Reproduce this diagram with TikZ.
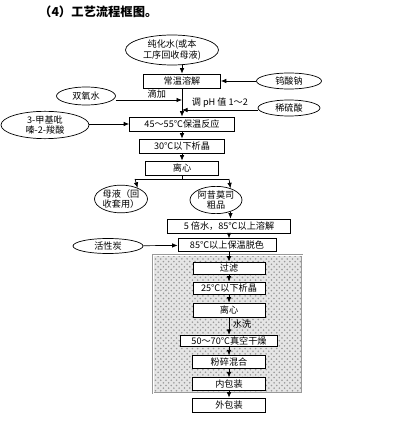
\documentclass[tikz,border=0pt]{standalone}
\usepackage{fontspec}
\usetikzlibrary{shapes.geometric,arrows.meta,patterns}
\newfontfamily\cjk{Noto Sans CJK SC}

\tikzset{
  every node/.style={font=\cjk\fontsize{5.2}{6.2}\selectfont},
  box/.style={draw,fill=white,line width=0.4pt,inner sep=0pt,minimum height=0.28cm,minimum width=#1},
  oval/.style={draw,ellipse,line width=0.4pt,inner sep=0pt,align=center,minimum width=#1},
  arr/.style={-{Latex[length=1.1mm,width=0.9mm]},line width=0.4pt},
  lbl/.style={inner sep=1pt}
}

\begin{document}
\begin{tikzpicture}[x=0.02cm,y=-0.02cm]
\useasboundingbox (0,0) rectangle (401,425);
\node[anchor=west,font=\cjk\bfseries\fontsize{7}{8}\selectfont] (title) at (33,12) {（4）工艺流程框图。};

% shaded part
\draw[draw=gray!80,double=white,double distance=0.5pt,preaction={fill=gray!20},pattern=crosshatch dots,pattern color=gray!80] (153,255) rectangle (302,393);

% feed and first steps
\node[oval=1.86cm,minimum height=0.6cm] (chunshui) at (172,50) {纯化水(或本\\工序回收母液)};
\node[box=1.54cm] (rongjie) at (182,81) {常温溶解};
\node[oval=1.3cm,minimum height=0.32cm] (wusuan) at (289,81) {钨酸钠};
\node[oval=1.18cm,minimum height=0.36cm] (shuangyang) at (86,96) {双氧水};
\node[oval=1.24cm,minimum height=0.32cm] (liusuan) at (289,108) {稀硫酸};
\node[oval=1.76cm,minimum height=0.52cm] (jiaji) at (45,125) {3-甲基吡\\嗪-2-羧酸};
\node[box=2.1cm] (fanying) at (182,124) {45～55℃保温反应};
\node[box=1.7cm] (xijing) at (182,146) {30℃以下析晶};
\node[box=1.46cm] (lixin) at (182,168) {离心};

\coordinate (fl) at (135,179);
\coordinate (fr) at (229,179);
\node[oval=1.06cm,minimum height=0.44cm] (muye) at (121,199) {母液（回\\收套用）};
\node[oval=1.04cm,minimum height=0.48cm] (cupin) at (216,200) {阿昔莫司\\粗品};

\node[box=2.46cm] (rongjie2) at (229,226) {5 倍水，85℃以上溶解};
\node[box=1.96cm,minimum height=0.25cm] (tuose) at (227,245) {85℃以上保温脱色};
\node[oval=1.4cm,minimum height=0.3cm] (tan) at (108,246) {活性炭};

% refining steps
\node[box=1.44cm,minimum height=0.24cm] (guolv) at (229,268) {过滤};
\node[box=1.44cm,minimum height=0.24cm] (xijing2) at (229,288) {25℃以下析晶};
\node[box=1.44cm] (lixin2) at (229,310) {离心};
\node[box=1.94cm,minimum height=0.23cm] (ganzao) at (229,341) {50～70℃真空干燥};
\node[box=1.46cm,minimum height=0.25cm] (fensui) at (229,362) {粉碎混合};
\node[box=1.46cm,minimum height=0.25cm] (neibao) at (229,384) {内包装};
\node[box=1.46cm] (waibao) at (229,405) {外包装};

\draw[arr] (chunshui.south -| rongjie.north) -- (rongjie.north);
\draw[arr] (wusuan) -- (rongjie);
\draw[arr] (rongjie) -- (fanying);
\draw[arr] (shuangyang.east |- 0,100) -- (182,100) node[lbl,pos=0.62,above] {滴加};
\draw[arr] (liusuan.west |- 0,110) -- (182,110) node[lbl,pos=0.5,above] {调 pH 值 1～2};
\draw[arr] (jiaji.east |- fanying) -- (fanying.west);
\draw[arr] (fanying) -- (xijing);
\draw[arr] (xijing) -- (lixin);
\draw (lixin.south) -- (lixin.south |- fl);
\draw (fl) -- (fr);
\draw[arr] (fl) -- (muye.34);
\draw[arr] (fr) -- (cupin.39);
\draw[arr] (cupin.-39) -- (cupin.-39 |- rongjie2.north);
\draw[arr] (rongjie2.south -| guolv) -- (tuose.north -| guolv);
\draw[arr] (tan) -- (tuose);
\draw[arr] (tuose.south -| guolv) -- (guolv);
\draw[arr] (guolv) -- (xijing2);
\draw[arr] (xijing2) -- (lixin2);
\draw[arr] (lixin2) -- (ganzao) node[lbl,pos=0.4,right=1pt] {水洗};
\draw[arr] (ganzao) -- (fensui);
\draw[arr] (fensui) -- (neibao);
\draw[arr] (neibao) -- (waibao);
\end{tikzpicture}
\end{document}
